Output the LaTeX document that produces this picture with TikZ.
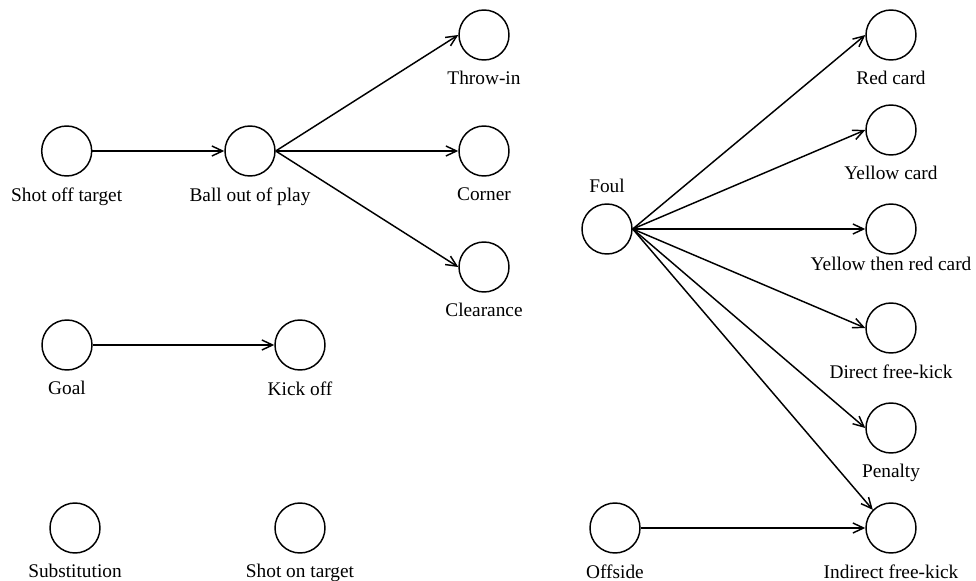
\documentclass[tikz,border=0pt]{standalone}
\usepackage{fontspec}
\setmainfont{Liberation Serif}
\usetikzlibrary{arrows.meta}

\tikzset{
	ev/.style={draw, circle, minimum size=37.5pt, inner sep=0pt, line width=1.1pt},
	lbl/.style={inner sep=0pt, label distance=7.5pt}
}

\begin{document}
\begin{tikzpicture}[x=0.75pt, y=-0.75pt, line width=1.1pt,
	>={Straight Barb[length=8pt,width=7.5pt]},
	font=\fontsize{14.5pt}{17pt}\selectfont]
	\useasboundingbox (0,0) rectangle (976,581);

	\node[ev, label={[lbl]below:Shot off target}] (sot) at (66.7,151) {};
	\node[ev, label={[lbl]below:Ball out of play}] (boop) at (250,151) {};
	\node[ev, label={[lbl]below:Throw-in}] (throw) at (484,35) {};
	\node[ev, label={[lbl]below:Corner}] (corner) at (484,151) {};
	\node[ev, label={[lbl]below:Clearance}] (clear) at (484,267) {};

	\node[ev, label={[lbl]below:Goal}] (goal) at (67,345) {};
	\node[ev, label={[lbl]below:Kick off}] (kick) at (300,345) {};

	\node[ev, label={[lbl]below:Substitution}] (subs) at (75,528) {};
	\node[ev, label={[lbl]below:Shot on target}] (son) at (300,528) {};

	\node[ev, label={[lbl]above:Foul}] (foul) at (607,229) {};
	\node[ev, label={[lbl]below:Red card}] (red) at (891,35) {};
	\node[ev, label={[lbl]below:Yellow card}] (yellow) at (891,130) {};
	\node[ev, label={[lbl, label distance=1pt]below:Yellow then red card}] (ytr) at (891,229) {};
	\node[ev, label={[lbl]below:Direct free-kick}] (dfk) at (891,328) {};
	\node[ev, label={[lbl]below:Penalty}] (pen) at (891,428) {};
	\node[ev, label={[lbl]below:Offside}] (off) at (615,528) {};
	\node[ev, label={[lbl]below:Indirect free-kick}] (ifk) at (891,528) {};

	\draw[->] (sot.east) -- (boop.west);
	\draw[->] (boop.east) -- (throw.west);
	\draw[->] (boop.east) -- (corner.west);
	\draw[->] (boop.east) -- (clear.west);

	\draw[->] (goal.east) -- (kick.west);

	\draw[->] (foul.east) -- (red.west);
	\draw[->] (foul.east) -- (yellow.west);
	\draw[->] (foul.east) -- (ytr.west);
	\draw[->] (foul.east) -- (dfk.west);
	\draw[->] (foul.east) -- (pen.west);
	\draw[->] (foul.east) -- (ifk.north west);
	\draw[->] (off.east) -- (ifk.west);
\end{tikzpicture}
\end{document}
